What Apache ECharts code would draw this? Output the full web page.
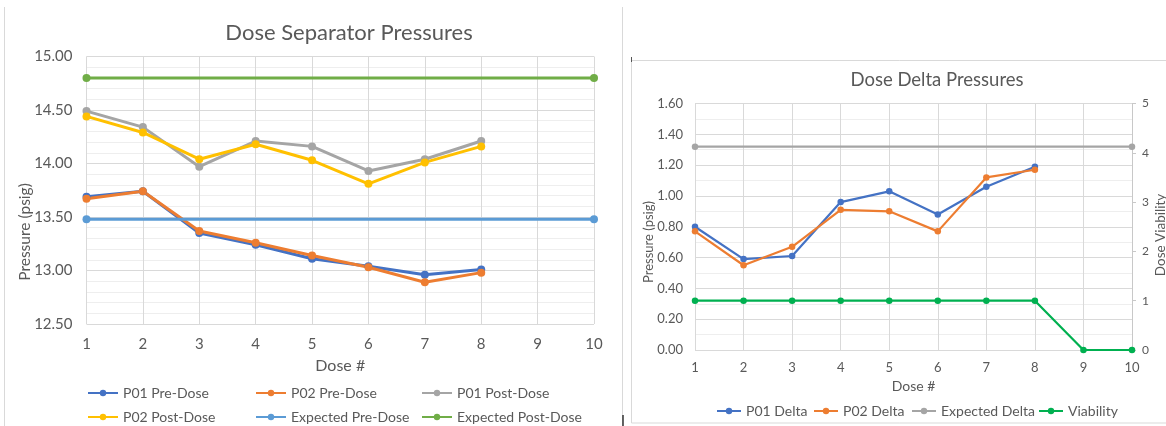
<!DOCTYPE html>
<html>
<head>
<meta charset="utf-8">
<script src="https://cdn.jsdelivr.net/npm/echarts@6/dist/echarts.min.js"></script>
<style>
  html, body { margin: 0; padding: 0; background: #fff; }
  #chart { width: 1166px; height: 426px; }
</style>
</head>
<body>
<div id="chart"></div>
<script>
// Dose numbers shared by both panels
const doses = [1, 2, 3, 4, 5, 6, 7, 8];
const doseRange = [1, 10];

// Separator pressures (psig)
const p01Pre  = [13.69, 13.74, 13.35, 13.24, 13.11, 13.04, 12.96, 13.01];
const p02Pre  = [13.67, 13.74, 13.37, 13.26, 13.14, 13.03, 12.89, 12.98];
const p01Post = [14.49, 14.34, 13.97, 14.21, 14.16, 13.93, 14.04, 14.21];
const p02Post = [14.44, 14.29, 14.04, 14.18, 14.03, 13.81, 14.01, 14.16];
const expectedPre  = [13.48, 13.48];
const expectedPost = [14.80, 14.80];

// Delta pressures (psig) and viability
const p01Delta = [0.80, 0.59, 0.61, 0.96, 1.03, 0.88, 1.06, 1.19];
const p02Delta = [0.77, 0.55, 0.67, 0.91, 0.90, 0.77, 1.12, 1.17];
const expectedDelta = [1.32, 1.32];
const viabilityDoses = [1, 2, 3, 4, 5, 6, 7, 8, 9, 10];
const viability = [1, 1, 1, 1, 1, 1, 1, 1, 0, 0];

const pairs = (xs, ys) => ys.map((y, i) => [xs[i], y]);

const FONT = 'Lato';
const TXT = '#595959';
const MAJOR = '#D9D9D9';
const MINOR = '#EEEEEE';

const C = {
  blue: '#4472C4', orange: '#ED7D31', gray: '#A5A5A5',
  yellow: '#FFC000', lightBlue: '#5B9BD5', green: '#70AD47', brightGreen: '#00B050'
};

function lineSeries(name, data, color, x, y, width, size) {
  return {
    name, type: 'line', data, xAxisIndex: x, yAxisIndex: y,
    symbol: 'circle', symbolSize: size, showSymbol: true,
    lineStyle: { color, width }, itemStyle: { color },
    emphasis: { disabled: true }, animation: false
  };
}

function legendItem(name, left, top, fontSize, w) {
  return {
    data: [name], left, top, itemWidth: w, itemHeight: 8, itemGap: 0,
    textStyle: { fontFamily: FONT, fontSize, color: TXT },
    padding: 0, selectedMode: false
  };
}

// rotated axis titles, placed as free text
function axisTitle(text, x, y, fontSize) {
  return {
    type: 'text', x, y, rotation: Math.PI / 2, silent: true,
    style: { text, fontFamily: FONT, fontSize, fill: TXT, align: 'center', verticalAlign: 'middle' }
  };
}

const xAxisBase = (gridIndex, fontSize, margin, nameGap, nameSize) => ({
  type: 'value', gridIndex, min: doseRange[0], max: doseRange[1], interval: 1,
  name: 'Dose #', nameLocation: 'middle', nameGap,
  nameTextStyle: { fontFamily: FONT, fontSize: nameSize, color: TXT },
  axisLine: { show: false }, axisTick: { show: false },
  axisLabel: { fontFamily: FONT, fontSize, color: TXT, margin },
  splitLine: { show: true, lineStyle: { color: MAJOR, width: 1 } }
});

const option = {
  backgroundColor: '#fff',
  title: [
    { text: 'Dose Separator Pressures', left: 344, top: 17, textAlign: 'center',
      textStyle: { fontFamily: FONT, fontSize: 22, fontWeight: 'normal', color: TXT } },
    { text: 'Dose Delta Pressures', left: 932, top: 66, textAlign: 'center',
      textStyle: { fontFamily: FONT, fontSize: 18.5, fontWeight: 'normal', color: TXT } }
  ],
  grid: [
    { left: 86.5, right: 572, top: 56.5, bottom: 102 },
    { left: 695, right: 34, top: 103.5, bottom: 76 }
  ],
  xAxis: [
    xAxisBase(0, 15, 13, 34, 16),
    xAxisBase(1, 13, 11, 29, 14)
  ],
  yAxis: [
    { type: 'value', gridIndex: 0, min: 12.5, max: 15, interval: 0.5,
      axisLine: { show: false }, axisTick: { show: false },
      axisLabel: { fontFamily: FONT, fontSize: 15, color: TXT, margin: 14,
        formatter: v => v.toFixed(2) },
      splitLine: { lineStyle: { color: MAJOR } },
      minorTick: { show: false, splitNumber: 5 },
      minorSplitLine: { show: true, lineStyle: { color: MINOR } } },
    { type: 'value', gridIndex: 1, min: 0, max: 1.6, interval: 0.2,
      axisLine: { show: false }, axisTick: { show: false },
      axisLabel: { fontFamily: FONT, fontSize: 13, color: TXT, margin: 12,
        formatter: v => v.toFixed(2) },
      splitLine: { lineStyle: { color: MAJOR } },
      minorTick: { show: false, splitNumber: 2 },
      minorSplitLine: { show: true, lineStyle: { color: MINOR } } },
    { type: 'value', gridIndex: 1, position: 'right', min: 0, max: 5, interval: 1,
      axisLine: { show: true, lineStyle: { color: '#C8C8C8', width: 1 } },
      axisTick: { show: true, length: 4, lineStyle: { color: '#C8C8C8' } },
      axisLabel: { fontFamily: FONT, fontSize: 12, color: TXT, margin: 10 },
      splitLine: { show: false } }
  ],
  legend: [
    legendItem('P01 Pre-Dose', 87, 386, 14, 30),
    legendItem('P02 Pre-Dose', 255, 386, 14, 30),
    legendItem('P01 Post-Dose', 421, 386, 14, 30),
    legendItem('P02 Post-Dose', 87, 410, 14, 30),
    legendItem('Expected Pre-Dose', 255, 410, 14, 30),
    legendItem('Expected Post-Dose', 421, 410, 14, 30),
    legendItem('P01 Delta', 716, 404, 14, 24),
    legendItem('P02 Delta', 813, 404, 14, 24),
    legendItem('Expected Delta', 911, 404, 14, 24),
    legendItem('Viability', 1038, 404, 14, 24)
  ],
  series: [
    lineSeries('P01 Pre-Dose', pairs(doses, p01Pre), C.blue, 0, 0, 3, 8),
    lineSeries('P02 Pre-Dose', pairs(doses, p02Pre), C.orange, 0, 0, 3, 8),
    lineSeries('P01 Post-Dose', pairs(doses, p01Post), C.gray, 0, 0, 3, 8),
    lineSeries('P02 Post-Dose', pairs(doses, p02Post), C.yellow, 0, 0, 3, 8),
    lineSeries('Expected Pre-Dose', pairs(doseRange, expectedPre), C.lightBlue, 0, 0, 3, 8),
    lineSeries('Expected Post-Dose', pairs(doseRange, expectedPost), C.green, 0, 0, 3, 8),
    lineSeries('P01 Delta', pairs(doses, p01Delta), C.blue, 1, 1, 2.2, 6.5),
    lineSeries('P02 Delta', pairs(doses, p02Delta), C.orange, 1, 1, 2.2, 6.5),
    lineSeries('Expected Delta', pairs(doseRange, expectedDelta), C.gray, 1, 1, 2.2, 6.5),
    lineSeries('Viability', pairs(viabilityDoses, viability), C.brightGreen, 1, 2, 2.2, 6.5)
  ],
  graphic: [
    axisTitle('Pressure (psig)', 25, 232, 15.5),
    axisTitle('Pressure (psig)', 649, 242, 13),
    axisTitle('Dose Viability', 1161, 235, 13.5),
    // frames around the two panels
    { type: 'line', shape: { x1: 4.5, y1: 7, x2: 4.5, y2: 426 },
      style: { stroke: '#D9D9D9', lineWidth: 1 }, silent: true },
    { type: 'line', shape: { x1: 622.5, y1: 7, x2: 622.5, y2: 426 },
      style: { stroke: '#D9D9D9', lineWidth: 1 }, silent: true },
    { type: 'line', shape: { x1: 623, y1: 415, x2: 623, y2: 426 },
      style: { stroke: '#333', lineWidth: 1.5 }, silent: true },
    { type: 'rect', shape: { x: 631.5, y: 60.5, width: 600, height: 362.5 },
      style: { fill: 'none', stroke: '#D9D9D9', lineWidth: 1 }, silent: true },
    { type: 'line', shape: { x1: 631.5, y1: 57, x2: 631.5, y2: 62 },
      style: { stroke: '#555', lineWidth: 1 }, silent: true }
  ]
};

const chart = echarts.init(document.getElementById('chart'), null, { renderer: 'canvas' });
chart.setOption(option);
</script>
</body>
</html>
